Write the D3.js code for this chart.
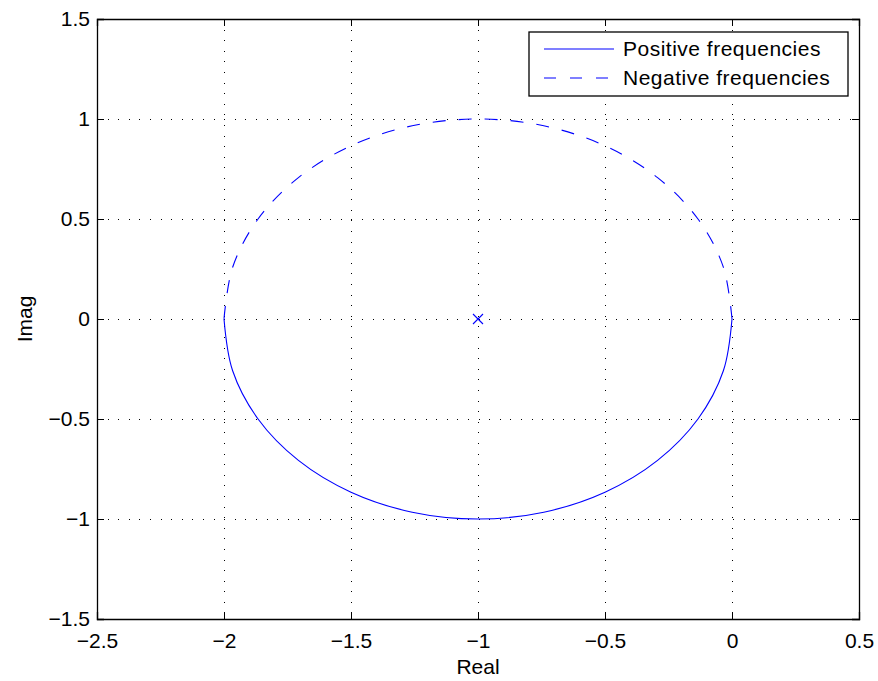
<!DOCTYPE html>
<html>
<head>
<meta charset="utf-8">
<script src="https://cdn.jsdelivr.net/npm/d3@7"></script>
<style>
  body { margin: 0; background: #fff; }
  text { font-family: "Liberation Sans", Arial, Helvetica, sans-serif; }
</style>
</head>
<body>
<svg id="nyq" width="878" height="681"></svg>
<script>
// values
var xTicks = [-2.5, -2, -1.5, -1, -0.5, 0, 0.5];
var yTicks = [-1.5, -1, -0.5, 0, 0.5, 1, 1.5];

// positive frequencies (lower half, solid)
var posRe = [-2, -1.966, -1.866, -1.707, -1.5, -1.259, -1, -0.741, -0.5, -0.293, -0.134, -0.034, 0];
var posIm = [0, -0.259, -0.5, -0.707, -0.866, -0.966, -1, -0.966, -0.866, -0.707, -0.5, -0.259, 0];

// negative frequencies (upper half, dashed)
var negRe = [0, -0.034, -0.134, -0.293, -0.5, -0.741, -1, -1.259, -1.5, -1.707, -1.866, -1.966, -2];
var negIm = [0, 0.259, 0.5, 0.707, 0.866, 0.966, 1, 0.966, 0.866, 0.707, 0.5, 0.259, 0];

var pole = [-1, 0];
var legendNames = ["Positive frequencies", "Negative frequencies"];

var svg = d3.select("#nyq"),
    margin = {top: 19, right: 19, bottom: 62, left: 97},
    width = +svg.attr("width") - margin.left - margin.right,
    height = +svg.attr("height") - margin.top - margin.bottom,
    g = svg.append("g").attr("transform", "translate(" + margin.left + "," + margin.top + ")");

var x = d3.scaleLinear().domain([-2.5, 0.5]).range([0, width]);
var y = d3.scaleLinear().domain([-1.5, 1.5]).range([height, 0]);

var fmt = function(d) { return d < 0 ? "\u2212" + Math.abs(d) : "" + d; };
var blue = "#0000ff";
var fontSize = "21px";

/* grid */
g.selectAll(".gx").data(xTicks.slice(1, -1)).enter().append("line")
    .attr("x1", function(d) { return x(d); }).attr("x2", function(d) { return x(d); })
    .attr("y1", 0).attr("y2", height)
    .attr("stroke", "#000").attr("stroke-width", 1).attr("stroke-dasharray", "1,9.6")
    .attr("shape-rendering", "crispEdges");
g.selectAll(".gy").data(yTicks.slice(1, -1)).enter().append("line")
    .attr("y1", function(d) { return y(d); }).attr("y2", function(d) { return y(d); })
    .attr("x1", 0).attr("x2", width)
    .attr("stroke", "#000").attr("stroke-width", 1).attr("stroke-dasharray", "1,9.6")
    .attr("shape-rendering", "crispEdges");

/* curves */
var line = d3.line()
    .x(function(d) { return x(d[0]); })
    .y(function(d) { return y(d[1]); })
    .curve(d3.curveCatmullRom.alpha(0.5));

g.append("path")
    .datum(posRe.map(function(r, i) { return [r, posIm[i]]; }))
    .attr("d", line).attr("fill", "none").attr("stroke", blue).attr("stroke-width", 1.1);

g.append("path")
    .datum(negRe.map(function(r, i) { return [r, negIm[i]]; }))
    .attr("d", line).attr("fill", "none").attr("stroke", blue).attr("stroke-width", 1.1)
    .attr("stroke-dasharray", "13,13");

/* pole marker */
var px = x(pole[0]), py = y(pole[1]);
g.append("path")
    .attr("d", "M" + (px - 5) + "," + (py - 5) + "L" + (px + 5) + "," + (py + 5) +
               "M" + (px - 5) + "," + (py + 5) + "L" + (px + 5) + "," + (py - 5))
    .attr("stroke", blue).attr("stroke-width", 1.1).attr("fill", "none");

/* axes */
g.append("g")
    .attr("transform", "translate(0," + height + ")")
    .call(d3.axisBottom(x).tickValues(xTicks).tickSize(-7).tickPadding(14).tickFormat(fmt));
g.append("g")
    .call(d3.axisTop(x).tickValues(xTicks).tickSize(-7).tickFormat(""));
g.append("g")
    .call(d3.axisLeft(y).tickValues(yTicks).tickSize(-7).tickPadding(7).tickFormat(fmt));
g.append("g")
    .attr("transform", "translate(" + width + ",0)")
    .call(d3.axisRight(y).tickValues(yTicks).tickSize(-7).tickFormat(""));

g.selectAll(".domain").attr("stroke", "#000").attr("stroke-width", 1.3);
g.selectAll(".tick line").attr("stroke", "#000");
g.selectAll(".tick text").attr("fill", "#000").style("font-size", fontSize);

/* axis labels */
svg.append("text")
    .attr("x", margin.left + width / 2).attr("y", 674)
    .attr("text-anchor", "middle").style("font-size", fontSize)
    .text("Real");
svg.append("text")
    .attr("transform", "translate(32," + (margin.top + height / 2) + ") rotate(-90)")
    .attr("text-anchor", "middle").style("font-size", fontSize)
    .text("Imag");

/* legend */
var legend = svg.append("g").attr("transform", "translate(529,32)");
legend.append("rect")
    .attr("x", 0).attr("y", 0).attr("width", 319).attr("height", 64)
    .attr("fill", "#fff").attr("stroke", "#000").attr("stroke-width", 1.3);
var item = legend.selectAll(".item").data(legendNames).enter().append("g")
    .attr("transform", function(d, i) { return "translate(0," + (17 + i * 29) + ")"; });
item.append("line")
    .attr("x1", 15).attr("x2", 85)
    .attr("stroke", blue).attr("stroke-width", 1.1)
    .attr("stroke-dasharray", function(d, i) { return i ? "12,14" : null; });
item.append("text")
    .attr("x", 94).attr("dy", "0.35em")
    .style("font-size", fontSize).style("letter-spacing", "0.5px")
    .text(function(d) { return d; });
</script>
</body>
</html>
